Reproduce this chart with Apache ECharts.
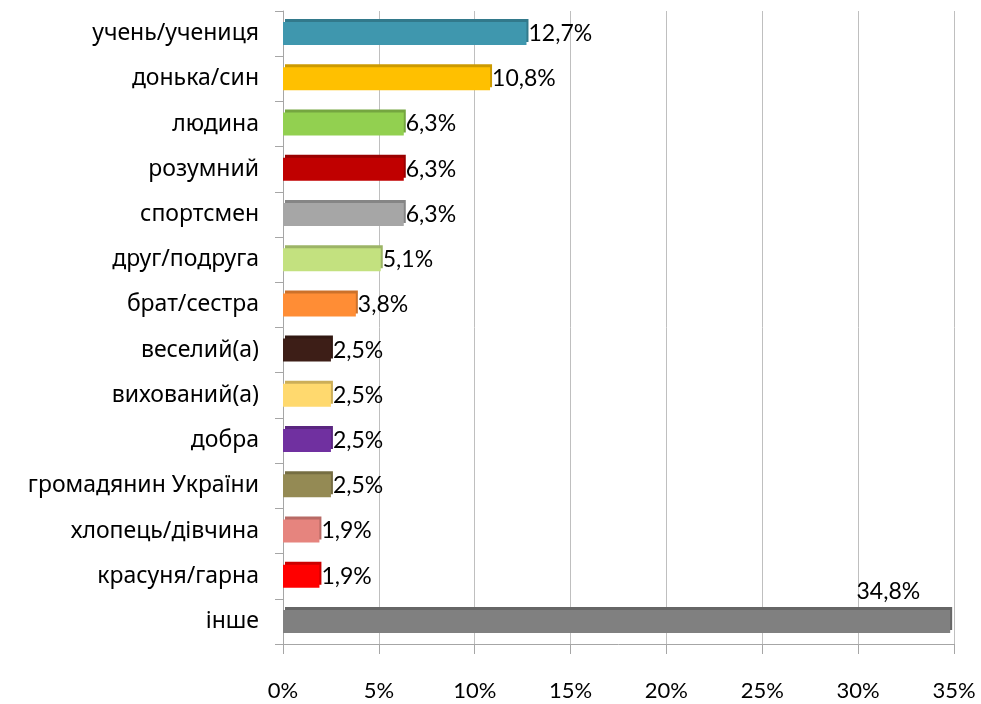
<!DOCTYPE html>
<html>
<head>
<meta charset="utf-8">
<script src="https://cdn.jsdelivr.net/npm/echarts@6/dist/echarts.min.js"></script>
<style>
  html, body { margin: 0; padding: 0; background: #fff; }
  #chart { width: 981px; height: 704px; }
</style>
</head>
<body>
<div id="chart"></div>
<script>
// категорії та значення (%)
const categories = [
  'учень/учениця', 'донька/син', 'людина', 'розумний', 'спортсмен',
  'друг/подруга', 'брат/сестра', 'веселий(а)', 'вихований(а)', 'добра',
  'громадянин України', 'хлопець/дівчина', 'красуня/гарна', 'інше'
];
const values = [12.7, 10.8, 6.3, 6.3, 6.3, 5.1, 3.8, 2.5, 2.5, 2.5, 2.5, 1.9, 1.9, 34.8];
const colors = [
  '#3f97ae', '#ffc000', '#92d050', '#c00000', '#a6a6a6',
  '#c3e17f', '#ff8d35', '#3d1e17', '#ffd96e', '#7030a0',
  '#948a54', '#e6847e', '#ff0000', '#808080'
];

// трохи темніший відтінок для "верхньої грані"
function darker(hex, k) {
  const n = parseInt(hex.slice(1), 16);
  const r = Math.round(((n >> 16) & 255) * k);
  const g = Math.round(((n >> 8) & 255) * k);
  const b = Math.round((n & 255) * k);
  return 'rgb(' + r + ',' + g + ',' + b + ')';
}

const maxVal = Math.max(...values);
const barData = values.map((v, i) => {
  const item = {
    value: v,
    itemStyle: {
      color: colors[i],
      shadowColor: darker(colors[i], 0.8),
      shadowBlur: 0,
      shadowOffsetX: 2,
      shadowOffsetY: -3
    }
  };
  if (v === maxVal) {
    item.label = {
      position: 'insideTopRight',
      offset: [-28, -32]
    };
  }
  return item;
});

const chart = echarts.init(document.getElementById('chart'));
const option = {
  animation: false,
  grid: {
    left: 283,
    right: 27,
    top: 11,
    bottom: 60
  },
  xAxis: {
    type: 'value',
    min: 0,
    max: 35,
    interval: 5,
    axisLine: { show: true, lineStyle: { color: '#a6a6a6' } },
    axisTick: { show: true, length: 10, lineStyle: { color: '#a6a6a6' } },
    splitLine: { show: true, lineStyle: { color: '#bfbfbf' } },
    axisLabel: {
      margin: 36,
      color: '#000',
      fontFamily: 'Lato',
      fontSize: 22,
      formatter: v => v + '%'
    }
  },
  yAxis: {
    type: 'category',
    data: categories,
    inverse: true,
    axisLine: { show: true, lineStyle: { color: '#a6a6a6' } },
    axisTick: { show: true, length: 8, lineStyle: { color: '#a6a6a6' } },
    axisLabel: {
      margin: 24,
      color: '#000',
      fontFamily: 'Noto Sans',
      fontSize: 23
    }
  },
  series: [{
    type: 'bar',
    data: barData,
    barWidth: 23,
    label: {
      show: true,
      position: 'right',
      distance: 2,
      color: '#000',
      fontFamily: 'Lato',
      fontSize: 23,
      formatter: p => String(p.value).replace('.', ',') + '%'
    }
  }]
};
chart.setOption(option);
</script>
</body>
</html>
